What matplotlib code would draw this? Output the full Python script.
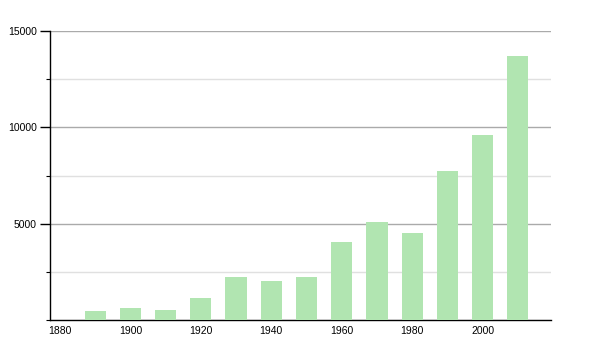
import matplotlib
matplotlib.use("Agg")
import matplotlib.pyplot as plt
from matplotlib.ticker import MultipleLocator

years = [1890, 1900, 1910, 1920, 1930, 1940, 1950, 1960, 1970, 1980, 1990, 2000, 2010]
population = [470, 640, 520, 1140, 2210, 2020, 2220, 4040, 5080, 4510, 7720, 9590, 13690]
xticks = [1880, 1900, 1920, 1940, 1960, 1980, 2000]
yticks = [5000, 10000, 15000]

plt.rcParams['font.family'] = ['Liberation Sans', 'DejaVu Sans']

fig = plt.figure(figsize=(6, 3.5), dpi=100)
ax = fig.add_axes([50/600, 30/350, 501/600, 289/350])

ax.bar(years, population, width=6, color='#b1e5b1', zorder=3)

ax.set_xlim(1877.2, 2019.4)
ax.set_ylim(0, 15000)

ax.set_yticks(yticks)
ax.yaxis.set_minor_locator(MultipleLocator(2500))
ax.set_xticks(xticks)
ax.set_xticklabels([str(x) for x in xticks])

ax.grid(axis='y', which='major', color='#aaaaaa', linewidth=1, zorder=1)
ax.grid(axis='y', which='minor', color='#e0e0e0', linewidth=1, zorder=1)

for s in ['top', 'right']:
    ax.spines[s].set_visible(False)
for s in ['left', 'bottom']:
    ax.spines[s].set_color('black')
    ax.spines[s].set_linewidth(1)

ax.tick_params(axis='y', which='major', length=7.5, width=1, labelsize=7.5, pad=2, colors='black')
ax.tick_params(axis='y', which='minor', length=3, width=0.8, color='black')
ax.tick_params(axis='x', which='major', length=0, labelsize=7.5, pad=4)

fig.savefig('out.png', dpi=100)
